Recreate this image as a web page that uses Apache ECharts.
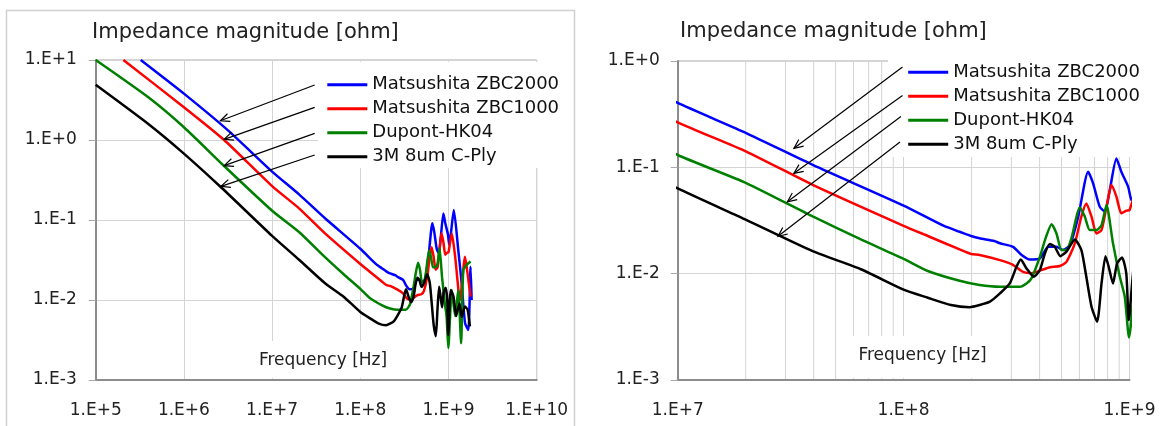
<!DOCTYPE html>
<html><head><meta charset="utf-8">
<script src="https://cdn.jsdelivr.net/npm/echarts@6/dist/echarts.min.js"></script>
<style>html,body{margin:0;padding:0;background:#fff}#c{width:1161px;height:426px}</style>
</head><body><div id="c"></div>
<script>
// ---------------- data ----------------
const seriesNames = ['Matsushita ZBC2000', 'Matsushita ZBC1000', 'Dupont-HK04', '3M 8um C-Ply'];
const seriesColors = ['#0000ff', '#ff0000', '#008000', '#000000'];

const zbc2000Hz = [3.24e5, 1e6, 3.16e6, 1e7, 2.02e7, 3.98e7, 1e8, 1.51e8, 1.77e8, 1.99e8, 2.17e8, 2.52e8, 2.67e8, 3.05e8, 3.33e8, 3.62e8, 4.01e8, 4.37e8, 4.75e8, 5.08e8, 5.45e8, 5.93e8, 6.56e8, 6.90e8, 7.38e8, 7.78e8, 8.18e8, 8.75e8, 9.20e8, 9.86e8, 1.02e9, 1.15e9, 1.29e9, 1.41e9, 1.54e9, 1.68e9, 1.78e9, 1.83e9];
const zbc2000Ohm = [10, 3.80, 1.32, 0.403, 0.209, 0.105, 0.0437, 0.0281, 0.0248, 0.0226, 0.0215, 0.0203, 0.0193, 0.0179, 0.0150, 0.0136, 0.0139, 0.0179, 0.0179, 0.0167, 0.0186, 0.0344, 0.0910, 0.0706, 0.0427, 0.0383, 0.0611, 0.121, 0.0910, 0.0658, 0.049, 0.133, 0.0422, 0.0162, 0.00513, 0.00422, 0.0261, 0.0100];

const zbc1000Hz = [2.06e5, 1e6, 2.86e6, 1e7, 2.02e7, 3.98e7, 1e8, 1.28e8, 1.77e8, 1.99e8, 2.17e8, 2.67e8, 3.05e8, 3.38e8, 3.68e8, 4.07e8, 4.44e8, 4.92e8, 5.26e8, 5.73e8, 6.12e8, 6.44e8, 6.79e8, 7.14e8, 7.52e8, 7.91e8, 8.32e8, 8.75e8, 9.20e8, 9.68e8, 1.0e9, 1.09e9, 1.19e9, 1.35e9, 1.54e9, 1.68e9, 1.78e9];
const zbc1000Ohm = [10, 2.57, 1.0, 0.265, 0.140, 0.0681, 0.0282, 0.0226, 0.0169, 0.0153, 0.0150, 0.0134, 0.0121, 0.0104, 0.0101, 0.0108, 0.0115, 0.0118, 0.0129, 0.0193, 0.0344, 0.0458, 0.0344, 0.0239, 0.0257, 0.0427, 0.0681, 0.0530, 0.0369, 0.0391, 0.0396, 0.0676, 0.0348, 0.0100, 0.0348, 0.0178, 0.0110];

const hk04Hz = [1e5, 3.95e5, 1e6, 2.86e6, 1e7, 2.02e7, 3.98e7, 6.47e7, 1e8, 1.28e8, 1.77e8, 2.17e8, 2.67e8, 3.27e8, 3.50e8, 3.68e8, 4.01e8, 4.27e8, 4.52e8, 4.75e8, 5.00e8, 5.26e8, 5.53e8, 6.03e8, 6.34e8, 6.67e8, 7.14e8, 7.52e8, 7.91e8, 8.45e8, 9.06e8, 9.53e8, 9.95e8, 1.09e9, 1.19e9, 1.29e9, 1.39e9, 1.47e9, 1.61e9, 1.78e9];
const hk04Ohm = [10, 3.42, 1.445, 0.473, 0.1306, 0.0708, 0.0343, 0.0210, 0.0138, 0.0106, 0.00857, 0.00782, 0.00753, 0.00753, 0.00809, 0.00902, 0.0144, 0.0222, 0.0292, 0.0239, 0.0167, 0.0167, 0.0215, 0.0420, 0.0344, 0.0257, 0.0257, 0.0286, 0.0442, 0.0193, 0.00935, 0.00607, 0.00251, 0.0133, 0.00631, 0.0133, 0.00288, 0.0237, 0.0275, 0.0302];

const cplyHz = [1e5, 3.95e5, 1e6, 2.69e6, 1e7, 2.02e7, 3.98e7, 6.47e7, 1e8, 1.28e8, 1.62e8, 1.96e8, 2.17e8, 2.41e8, 2.67e8, 2.95e8, 3.16e8, 3.30e8, 3.50e8, 3.77e8, 4.01e8, 4.22e8, 4.44e8, 4.67e8, 4.94e8, 5.26e8, 5.73e8, 6.12e8, 6.44e8, 6.79e8, 7.19e8, 7.52e8, 7.83e8, 8.09e8, 8.45e8, 8.81e8, 9.27e8, 9.68e8, 9.93e8, 1.06e9, 1.14e9, 1.22e9, 1.33e9, 1.41e9, 1.54e9, 1.65e9, 1.75e9];
const cplyOhm = [4.90, 1.585, 0.676, 0.251, 0.0634, 0.0319, 0.0162, 0.0110, 0.00708, 0.00594, 0.00507, 0.00484, 0.00507, 0.00545, 0.00652, 0.00809, 0.0116, 0.0136, 0.0112, 0.00935, 0.0108, 0.0155, 0.0190, 0.0179, 0.0146, 0.0161, 0.0210, 0.0167, 0.00935, 0.00489, 0.00353, 0.00809, 0.0146, 0.0116, 0.00809, 0.0125, 0.0142, 0.0100, 0.00366, 0.0133, 0.0110, 0.00631, 0.00912, 0.00617, 0.00832, 0.00750, 0.00468];

// axis ranges
const leftFreqRange = [1e5, 1e10];
const leftOhmRange = [1e-3, 1e1];
const rightFreqRange = [1e7, 1e9];
const rightOhmRange = [1e-3, 1e0];
const rightMinorGridHz = [2e7, 3e7, 4e7, 5e7, 6e7, 7e7, 8e7, 9e7, 2e8, 3e8, 4e8, 5e8, 6e8, 7e8, 8e8, 9e8];

// annotation arrows: [fromHz, fromOhm, toHz, toOhm]
const leftArrows = [
  [3.04e7, 4.87, 2.59e6, 1.74],
  [3.04e7, 2.56, 2.86e6, 1.02],
  [3.04e7, 1.21, 2.86e6, 0.478],
  [3.04e7, 0.649, 2.63e6, 0.263]
];
const rightArrows = [
  [9.89e7, 0.878, 3.27e7, 0.151],
  [9.89e7, 0.4735, 3.27e7, 0.0879],
  [9.73e7, 0.3006, 3.06e7, 0.0474],
  [9.64e7, 0.173, 2.78e7, 0.02244]
];

const titleText = 'Impedance magnitude [ohm]';
const xTitleText = 'Frequency [Hz]';

// ---------------- chart ----------------
const FONT = "'DejaVu Sans', sans-serif";
const hzArrays = [zbc2000Hz, zbc1000Hz, hk04Hz, cplyHz];
const ohmArrays = [zbc2000Ohm, zbc1000Ohm, hk04Ohm, cplyOhm];

function expLabel(v) {
  const e = Math.round(Math.log10(v));
  return '1.E' + (e >= 0 ? '+' : '-') + Math.abs(e);
}

function makeX(idx, range) {
  return {
    type: 'log', logBase: 10, gridIndex: idx, min: range[0], max: range[1],
    splitNumber: 5,
    axisLine: { show: true, lineStyle: { color: '#8c8c8c', width: 2 } },
    axisTick: { show: false },
    axisLabel: { formatter: expLabel, fontFamily: FONT, fontSize: 17, color: '#222', margin: 22 },
    splitLine: { show: true, lineStyle: { color: '#d4d4d4', width: 1 } }
  };
}
function makeY(idx, range, margin) {
  return {
    type: 'log', logBase: 10, gridIndex: idx, min: range[0], max: range[1],
    splitNumber: 5,
    axisLine: { show: true, lineStyle: { color: '#8c8c8c', width: 2 } },
    axisTick: { show: true, inside: false, length: 7, lineStyle: { color: '#aaa', width: 1 } },
    axisLabel: { formatter: expLabel, fontFamily: FONT, fontSize: 17, color: '#222', margin: margin },
    splitLine: { show: true, lineStyle: { color: '#d4d4d4', width: 1 } }
  };
}

function arrowItem(params, api) {
  const p1 = api.coord([api.value(0), api.value(1)]);
  const p2 = api.coord([api.value(2), api.value(3)]);
  const ang = Math.atan2(p1[1] - p2[1], p1[0] - p2[0]);
  const L = 10, a = 0.42;
  const h1 = [p2[0] + L * Math.cos(ang + a), p2[1] + L * Math.sin(ang + a)];
  const h2 = [p2[0] + L * Math.cos(ang - a), p2[1] + L * Math.sin(ang - a)];
  return {
    type: 'group', children: [
      { type: 'line', shape: { x1: p1[0], y1: p1[1], x2: p2[0], y2: p2[1] }, style: { stroke: '#000', lineWidth: 1.2 } },
      { type: 'polyline', shape: { points: [h1, p2, h2] }, style: { stroke: '#000', fill: null, lineWidth: 1.2 } }
    ]
  };
}
function minorGridItem(params, api) {
  const p1 = api.coord([api.value(0), api.value(1)]);
  const p2 = api.coord([api.value(0), api.value(2)]);
  return { type: 'line', shape: { x1: p1[0], y1: p1[1], x2: p2[0], y2: p2[1] }, style: { stroke: '#d4d4d4', lineWidth: 1 } };
}

const series = [];
[0, 1].forEach(function (g) {
  for (let i = 0; i < 4; i++) {
    series.push({
      name: seriesNames[i], type: 'line', xAxisIndex: g, yAxisIndex: g,
      data: hzArrays[i].map(function (f, k) { return [f, ohmArrays[i][k]]; }),
      symbol: 'none', smooth: 0.2, clip: true, z: 2,
      lineStyle: { color: seriesColors[i], width: 2.5 }, itemStyle: { color: seriesColors[i] }
    });
  }
});
series.push({
  type: 'custom', xAxisIndex: 1, yAxisIndex: 1, z: 0, silent: true,
  renderItem: minorGridItem, encode: { x: 0, y: [1, 2] },
  data: rightMinorGridHz.map(function (f) { return [f, rightOhmRange[0], rightOhmRange[1]]; })
});
series.push({
  type: 'custom', xAxisIndex: 0, yAxisIndex: 0, z: 3, silent: true,
  renderItem: arrowItem, encode: { x: [0, 2], y: [1, 3] }, data: leftArrows
});
series.push({
  type: 'custom', xAxisIndex: 1, yAxisIndex: 1, z: 3, silent: true,
  renderItem: arrowItem, encode: { x: [0, 2], y: [1, 3] }, data: rightArrows
});

function makeLegend(left, top) {
  return {
    data: seriesNames, orient: 'vertical', left: left, top: top, padding: 0,
    itemWidth: 40, itemHeight: 18, itemGap: 6, itemStyle: { opacity: 0 },
    lineStyle: { width: 3 }, selectedMode: false,
    textStyle: { fontFamily: FONT, fontSize: 18, color: '#111', lineHeight: 18 }
  };
}

const chart = echarts.init(document.getElementById('c'), null, { renderer: 'canvas' });
chart.setOption({
  animation: false,
  backgroundColor: '#fff',
  grid: [
    { left: 95.7, top: 60, width: 441, height: 320, show: true, borderColor: '#a8a8a8', borderWidth: 1, backgroundColor: 'transparent' },
    { left: 677.7, top: 61, width: 451.8, height: 319, show: true, borderColor: '#a8a8a8', borderWidth: 1, backgroundColor: 'transparent' }
  ],
  xAxis: [makeX(0, leftFreqRange), makeX(1, rightFreqRange)],
  yAxis: [makeY(0, leftOhmRange, 19), makeY(1, rightOhmRange, 18)],
  legend: [makeLegend(325.8, 75.8), makeLegend(906.7, 63.2)],
  graphic: [
    { type: 'rect', z: -1, shape: { x: 6.5, y: 10.5, width: 568, height: 430 }, style: { fill: null, stroke: '#d0d0d0', lineWidth: 1.5 } },
    { type: 'rect', z: 1, shape: { x: 318, y: 62, width: 254, height: 106 }, style: { fill: '#fff' } },
    { type: 'rect', z: 1, shape: { x: 888, y: 45, width: 260, height: 112 }, style: { fill: '#fff' } },
    { type: 'rect', z: 1, shape: { x: 250, y: 341, width: 145, height: 37 }, style: { fill: '#fff' } },
    { type: 'rect', z: 1, shape: { x: 851, y: 336, width: 145, height: 42 }, style: { fill: '#fff' } },
    { type: 'text', z: 5, x: 92, y: 33, style: { text: titleText, font: "21px 'DejaVu Sans', sans-serif", fill: '#222', textVerticalAlign: 'middle' } },
    { type: 'text', z: 5, x: 680, y: 32, style: { text: titleText, font: "21px 'DejaVu Sans', sans-serif", fill: '#222', textVerticalAlign: 'middle' } },
    { type: 'text', z: 5, x: 323, y: 361, style: { text: xTitleText, font: "17px 'DejaVu Sans', sans-serif", fill: '#222', textAlign: 'center', textVerticalAlign: 'middle' } },
    { type: 'text', z: 5, x: 922.5, y: 356, style: { text: xTitleText, font: "17px 'DejaVu Sans', sans-serif", fill: '#222', textAlign: 'center', textVerticalAlign: 'middle' } }
  ],
  series: series
});
</script>
</body></html>
